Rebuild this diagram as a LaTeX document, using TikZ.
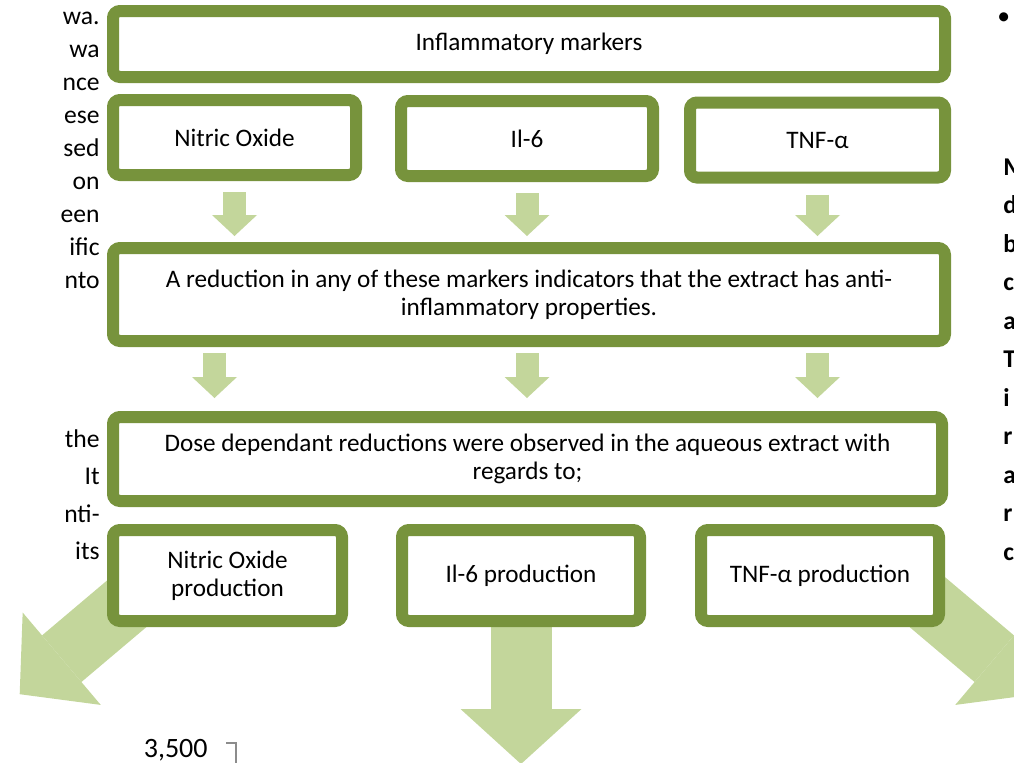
\documentclass[tikz,border=0pt]{standalone}
\usepackage{fontspec}
\setmainfont{Carlito}
\usetikzlibrary{arrows.meta,backgrounds,calc}
\definecolor{olivedark}{HTML}{77933C}
\definecolor{olivelight}{HTML}{C3D69B}

\begin{document}
\begin{tikzpicture}[
  x=0.5pt,y=-0.5pt,
  box/.style={draw=olivedark,fill=white,line width=6pt,rounded corners=3.5pt,
    align=center,inner sep=0pt,font=\fontsize{12.6}{13.8}\selectfont},
  flow/.style={olivelight,line width=11.5pt,
    -{Triangle[width=22.5pt,length=10.5pt,line width=0pt]}},
  bigflow/.style={olivelight,line width=30.5pt,
    -{Triangle[width=60.5pt,length=27.5pt,line width=0pt]}},
  side text/.style={font=\fontsize{12.8}{18}\selectfont,inner sep=0pt}
]
  \useasboundingbox (0,0) rectangle (1014,762);

  % text of the poster columns either side
  \foreach \w [count=\i from 0] in {wa.,wa,nce,ese,sed,on,een,ific,nto}
    \node[side text,anchor=base east] (lefta\i) at (100,{24+33*\i}) {\w};
  \foreach \w [count=\i from 0] in {the,It,nti-,its}
    \node[side text,anchor=base east] (leftb\i) at (100,{447+37.5*\i}) {\w};
  \node[side text,anchor=base west] (bullet) at (997,24) {•};
  \foreach \w [count=\i from 0] in {M,d,b,c,a,T,i,r,a,r,c}
    \node[side text,font=\fontsize{12.8}{18}\selectfont\bfseries,anchor=base west]
      (right\i) at (1003,{175+38.5*\i}) {\w};

  \node[box,minimum width=416pt,minimum height=33pt] (markers) at (529,44)
    {Inflammatory markers};
  \node[box,minimum width=121.5pt,minimum height=37.5pt] (no) at (234.5,137.5)
    {Nitric Oxide};
  \node[box,minimum width=126pt,minimum height=37.5pt] (il) at (527,138.5)
    {Il-6};
  \node[box,minimum width=127.5pt,minimum height=37.5pt] (tnf) at (817.5,140)
    {TNF-α};
  \node[box,minimum width=416pt,minimum height=46.5pt] (reduce) at (529,294.5)
    {A reduction in any of these markers indicators that the extract has anti-\\
     inflammatory properties.};
  \node[box,minimum width=414.5pt,minimum height=42pt] (dose) at (527.5,459)
    {Dose dependant reductions were observed in the aqueous extract with\\
     regards to;};
  \node[box,minimum width=114.5pt,minimum height=45.5pt] (noprod) at (227.5,575.5)
    {Nitric Oxide\\production};
  \node[box,minimum width=119pt,minimum height=45.5pt] (ilprod) at (521,575.5)
    {Il-6 production};
  \node[box,minimum width=119pt,minimum height=45.5pt] (tnfprod) at (820,575.5)
    {TNF-α production};

  \draw[flow,shorten <=5.5pt,shorten >=3pt] (no) -- (no |- reduce.north);
  \draw[flow,shorten <=5.5pt,shorten >=3pt] (il) -- (il |- reduce.north);
  \draw[flow,shorten <=5.5pt,shorten >=3pt] (tnf) -- (tnf |- reduce.north);

  \draw[flow,shorten <=3pt,shorten >=6.5pt]
    ($(reduce.south -| no)+(-20,0)$) -- ($(dose.north -| no)+(-20,0)$);
  \draw[flow,shorten <=3pt,shorten >=6.5pt] (reduce.south -| il) -- (dose.north -| il);
  \draw[flow,shorten <=3pt,shorten >=6.5pt] (reduce.south -| tnf) -- (dose.north -| tnf);

  % large arrows go behind the last row of boxes
  \coordinate (tipleft) at (19.7,694.2);
  \coordinate (tipmid) at (521,764);
  \coordinate (tipright) at (1036.3,694.2);
  \begin{scope}[on background layer]
    \draw[bigflow] ([shift={(-39.5,-23.5)}]noprod.center) -- (tipleft);
    \draw[bigflow] (ilprod.center) -- (tipmid);
    \draw[bigflow] ([shift={(48,-23.5)}]tnfprod.center) -- (tipright);
  \end{scope}

  \node[font=\fontsize{14}{16}\selectfont,anchor=base east,inner sep=0pt]
    (axis) at (208,757) {3,500};
  \draw[black!45,line width=0.7pt] ([xshift=9pt]axis.base east) ++(0,-14) coordinate (tick)
    -- ++(10,0) -- ++(0,24);
\end{tikzpicture}
\end{document}
